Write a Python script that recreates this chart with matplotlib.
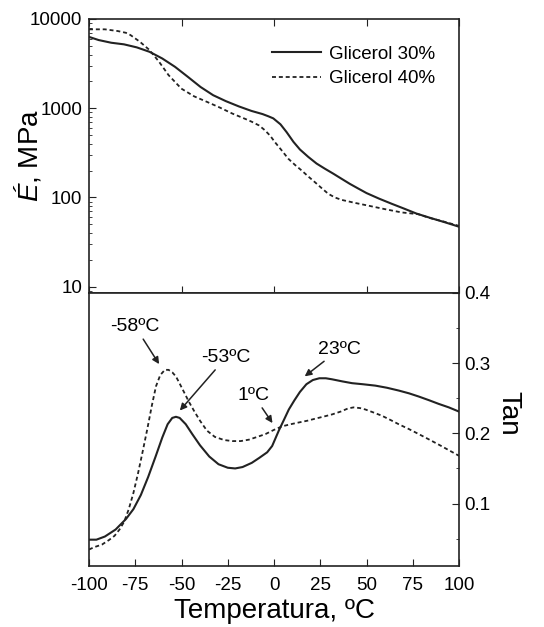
import matplotlib
matplotlib.use('Agg')
import matplotlib.pyplot as plt
import numpy as np

plt.rcParams['font.family'] = ['Liberation Sans', 'DejaVu Sans']
plt.rcParams['mathtext.fontset'] = 'custom'
plt.rcParams['mathtext.rm'] = 'Liberation Sans'
plt.rcParams['mathtext.it'] = 'Liberation Sans:italic'
plt.rcParams['axes.unicode_minus'] = False

# modulo de almacenamiento E' (MPa)
temp_e30 = [-100, -94.8, -88, -81.1, -74.2, -67.3, -60.4, -53.5, -46.6, -39.7, -32.9,
            -26, -19.1, -12.2, -6.2, -3.1, -0.4, 3.5, 6.8, 10.5, 14, 18.5, 23, 27.5,
            32, 36.5, 41, 45.5, 50, 56.8, 63.6, 70.3, 77, 84.5, 92, 100]
e30 = [6300, 5810, 5420, 5200, 4810, 4290, 3610, 2910, 2250, 1730, 1400,
       1200, 1050, 933, 860, 813, 770, 660, 540, 420, 345, 285, 240, 210,
       185, 162, 142, 126, 112, 97, 85, 75, 66, 59, 53, 47]
temp_e40 = [-100, -91.4, -84.5, -80, -77.6, -72.5, -67.3, -62.1, -57, -50.1, -43.2,
            -36.3, -29.4, -22.5, -15.6, -12, -8, -4.9, -2, 0.4, 4, 7.7, 11.3, 14.9,
            18.5, 22, 25.6, 29.3, 32.9, 36.5, 43.7, 50.9, 59.9, 68.9, 77.9, 84, 92, 100]
e40 = [7660, 7660, 7330, 7000, 6610, 5560, 4490, 3310, 2350, 1660, 1360,
       1180, 1020, 871, 760, 705, 640, 566, 490, 419, 340, 272, 232, 201,
       172, 149, 128, 110, 100, 94, 87, 81, 74, 68, 65, 59, 53.5, 48]

# tan delta
temp_t30 = [-100, -96, -91.4, -85.6, -80, -76, -72, -68, -64, -60.4, -57.5, -55, -53,
            -51, -47.7, -44.2, -40, -35, -30, -25, -21, -17, -12, -8, -3.7, -1,
            2.6, 5.5, 8, 11, 14, 17.5, 21, 24.5, 28, 31.4, 37, 42.2, 48, 54.8, 61,
            67.4, 73, 78.2, 84, 89, 94.5, 100]
tan30 = [0.0485, 0.0485, 0.053, 0.063, 0.078, 0.092, 0.112, 0.138, 0.167, 0.194, 0.213,
         0.222, 0.2236, 0.222, 0.213, 0.199, 0.183, 0.167, 0.156, 0.151, 0.150, 0.152,
         0.158, 0.165, 0.173, 0.182, 0.204, 0.220, 0.234, 0.247, 0.259, 0.270, 0.276,
         0.2785, 0.2785, 0.277, 0.274, 0.2715, 0.270, 0.268, 0.265, 0.261, 0.257,
         0.2525, 0.247, 0.242, 0.237, 0.231]
temp_t40 = [-100, -97, -93, -89.2, -86.2, -83.5, -81, -78.5, -76, -73.5, -71, -68.5,
            -66, -63.8, -61.5, -59, -57, -55, -53, -51, -48.5, -46, -43, -40, -36.3,
            -32, -27, -22.5, -18, -13.6, -9, -4.6, 0, 4.4, 9, 13.4, 18, 22.4, 27,
            31.4, 36, 40, 43, 46.5, 49.4, 54, 58.4, 63, 67.4, 73, 78.2, 84, 89, 94.5, 100]
tan40 = [0.0345, 0.038, 0.0415, 0.048, 0.054, 0.063, 0.074, 0.092, 0.115, 0.143,
         0.174, 0.206, 0.240, 0.267, 0.283, 0.2905, 0.2905, 0.287, 0.281, 0.271,
         0.258, 0.245, 0.231, 0.218, 0.204, 0.195, 0.1905, 0.189, 0.189, 0.191,
         0.195, 0.199, 0.205, 0.210, 0.213, 0.2155, 0.218, 0.221, 0.224, 0.227,
         0.231, 0.2355, 0.237, 0.236, 0.234, 0.2295, 0.225, 0.219, 0.213, 0.206,
         0.199, 0.191, 0.184, 0.176, 0.168]

labels = ['Glicerol 30%', 'Glicerol 40%']
col = '#222222'
dash = (0, (2.2, 1.6))

fig = plt.figure(figsize=(5.44, 6.27), dpi=100)
ax1 = fig.add_axes([0.1636, 0.5327, 0.6802, 0.4370])
ax2 = fig.add_axes([0.1636, 0.0973, 0.6802, 0.4354])

# panel superior
ax1.plot(temp_e30, e30, color=col, lw=1.5, label=labels[0])
ax1.plot(temp_e40, e40, color=col, lw=1.3, ls=dash, label=labels[1])
ax1.set_yscale('log')
ax1.set_ylim(8.5, 10000)
ax1.set_xlim(-100, 100)
ax1.set_xticks([-100, -50, 0, 50, 100])
ax1.tick_params(axis='x', which='both', direction='in', top=True, bottom=True,
                labelbottom=False, length=5, color=col)
ax1.tick_params(axis='y', which='major', direction='in', length=5, labelsize=13.5,
                color=col, pad=5)
ax1.tick_params(axis='y', which='minor', direction='in', length=2.5, color=col)
ax1.set_yticks([10, 100, 1000, 10000])
ax1.set_yticklabels(['10', '100', '1000', '10000'])
ax1.set_ylabel(r"$\mathit{É}$, MPa", fontsize=20)
ax1.yaxis.set_label_coords(-0.124, 0.5)
ax1.legend(loc='upper right', frameon=False, fontsize=13.5, handlelength=2.6,
           handletextpad=0.43, labelspacing=0.41, bbox_to_anchor=(0.98, 0.965))

# panel inferior
ax2.plot(temp_t30, tan30, color=col, lw=1.5)
ax2.plot(temp_t40, tan40, color=col, lw=1.3, ls=dash)
ax2.set_xlim(-100, 100)
ax2.set_ylim(0.011, 0.4)
ax2.set_xticks(np.arange(-100, 101, 25))
ax2.yaxis.tick_right()
ax2.yaxis.set_label_position('right')
ax2.set_yticks([0.1, 0.2, 0.3, 0.4])
ax2.set_yticks([0.05, 0.15, 0.25, 0.35], minor=True)
ax2.tick_params(axis='x', direction='in', length=5, labelsize=13.5, color=col, pad=8)
ax2.tick_params(axis='y', which='major', direction='in', length=5, labelsize=13.5, color=col)
ax2.tick_params(axis='y', which='minor', direction='in', length=2.5, color=col)
ax2.set_xlabel('Temperatura, ºC', fontsize=20, labelpad=3)
ax2.set_ylabel('Tan', fontsize=20, rotation=270)
ax2.yaxis.set_label_coords(1.169, 0.56)

for ax in (ax1, ax2):
    for s in ax.spines.values():
        s.set_color(col)
        s.set_linewidth(1.2)

arrow = dict(arrowstyle='-|>', color=col, lw=1.1, mutation_scale=10, shrinkA=1, shrinkB=1)
ax2.annotate('-58ºC', xy=(-61.7, 0.297), xytext=(-75, 0.352), fontsize=14,
             ha='center', va='center', arrowprops=arrow)
ax2.annotate('-53ºC', xy=(-51.4, 0.231), xytext=(-26, 0.308), fontsize=14,
             ha='center', va='center', arrowprops=arrow)
ax2.annotate('23ºC', xy=(16, 0.280), xytext=(35.5, 0.320), fontsize=14,
             ha='center', va='center', arrowprops=arrow)
ax2.annotate('1ºC', xy=(-0.4, 0.213), xytext=(-11, 0.254), fontsize=14,
             ha='center', va='center', arrowprops=arrow)

fig.savefig('out.png', dpi=100)
